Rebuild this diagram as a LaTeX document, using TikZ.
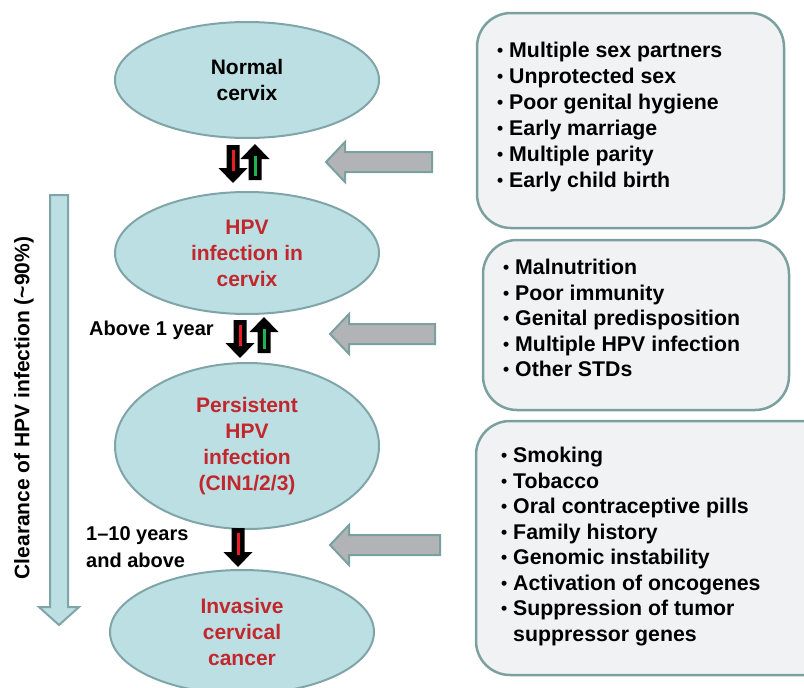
\documentclass[tikz,border=0pt]{standalone}
\usepackage{fontspec}
\setmainfont{Liberation Sans}
\usetikzlibrary{shapes.geometric}

\definecolor{cellfill}{RGB}{188,223,227}
\definecolor{cellline}{RGB}{128,165,168}
\definecolor{panelfill}{RGB}{241,242,244}
\definecolor{panelline}{RGB}{122,160,160}
\definecolor{greyarrow}{RGB}{178,179,182}
\definecolor{stagered}{RGB}{193,39,45}
\definecolor{stripered}{RGB}{237,28,36}
\definecolor{stripegreen}{RGB}{30,178,80}

\newcommand\stagefont{\fontsize{21}{26}\selectfont\bfseries}
\newcommand\labelfont{\fontsize{20}{27}\selectfont\bfseries}
\newcommand\listfontA{\fontsize{21.3}{26}\selectfont\bfseries}
\newcommand\listfontB{\fontsize{21.3}{25.5}\selectfont\bfseries}
\newcommand\firstline{\rule{0pt}{15.5pt}}
\newcommand\dotitem{{\fontsize{17.5}{17.5}\selectfont\raisebox{1pt}{•}}\ }

\tikzset{
  stage/.style={ellipse, draw=cellline, fill=cellfill, line width=2pt,
    minimum width=264pt, inner sep=0pt, align=center, font=\stagefont},
  panel/.style={draw=panelline, fill=panelfill, line width=2.5pt,
    rounded corners=34pt, inner sep=0pt},
  listtext/.style={anchor=north west, inner sep=0pt, align=left},
  sidelabel/.style={anchor=base west, inner sep=0pt, font=\labelfont},
  pics/downflag/.style={code={
    \fill[black] (-6.5,0) -- (6.5,0) -- (6.5,#1-15) -- (14.5,#1-15)
      -- (0,#1) -- (-14.5,#1-15) -- (-6.5,#1-15) -- cycle;
    \draw[stripered, line width=3pt] (0,5) -- (0,#1-12);
  }},
  pics/upflag/.style={code={
    \fill[black] (-6.5,0) -- (6.5,0) -- (6.5,-#1+15) -- (14.5,-#1+15)
      -- (0,-#1) -- (-14.5,-#1+15) -- (-6.5,-#1+15) -- cycle;
    \draw[stripegreen, line width=3pt] (0,-4) -- (0,-#1+12);
  }},
  pics/leftblock/.style={code={
    \filldraw[fill=greyarrow, draw=panelline, line width=2pt, line join=miter]
      (0,0) -- (19,-20) -- (19,-10) -- (#1,-10) -- (#1,10) -- (19,10)
      -- (19,20) -- cycle;
  }}
}

\begin{document}
\begin{tikzpicture}[x=1pt, y=-1pt]
  \useasboundingbox (0,0) rectangle (804,688);
  \clip (0,0) rectangle (804,688);
  \fill[white] (0,0) rectangle (804,688);

  % stages of the disease
  \node[stage, minimum height=116pt] (normal) at (247,80) {Normal\\cervix};
  \node[stage, minimum height=122pt, text=stagered] (hpv) at (247,253)
    {HPV\\infection in\\cervix};
  \node[stage, minimum height=166pt, text=stagered] (persist) at (247,446)
    {Persistent\\HPV\\infection\\(CIN1/2/3)};
  \node[stage, minimum height=124pt, text=stagered] (cancer) at (242,632)
    {Invasive\\cervical\\cancer};

  % transitions between stages
  \pic at (233,145) {downflag=38};
  \pic at (255,180) {upflag=36};
  \pic at (240,320) {downflag=38};
  \pic at (264,353) {upflag=36};
  \pic at (238,528) {downflag=39};

  \node[sidelabel] (above) at (89,335) {Above 1 year};
  \node[sidelabel] (years) at (86,540) {1--10 years};
  \node[sidelabel] (andabove) at (86,567) {and above};

  % clearance arrow
  \filldraw[fill=cellfill, draw=cellline, line width=2pt]
    (50,195) -- (68,195) -- (68,607) -- (79,607) -- (59,625) -- (39,607)
    -- (50,607) -- cycle;
  \node[rotate=90, inner sep=0pt, font=\fontsize{21}{26}\selectfont\bfseries] (clear)
    at (24,408) {Clearance of HPV infection (\textasciitilde90\%)};

  % risk factor panels
  \node[panel, minimum width=307pt, minimum height=215pt] (risk1) at (630.5,120.5) {};
  \node[listtext, font=\listfontA] (list1) at (497,42) {\firstline
    \dotitem Multiple sex partners\\
    \dotitem Unprotected sex\\
    \dotitem Poor genital hygiene\\
    \dotitem Early marriage\\
    \dotitem Multiple parity\\
    \dotitem Early child birth};

  \node[panel, minimum width=306pt, minimum height=170pt] (risk2) at (636,325) {};
  \node[listtext, font=\listfontB] (list2) at (503,259) {\firstline
    \dotitem Malnutrition\\
    \dotitem Poor immunity\\
    \dotitem Genital predisposition\\
    \dotitem Multiple HPV infection\\
    \dotitem Other STDs};

  \node[panel, minimum width=364pt, minimum height=254pt] (risk3) at (658,548) {};
  \node[listtext, font=\listfontB] (list3) at (501,447) {\firstline
    \dotitem Smoking\\
    \dotitem Tobacco\\
    \dotitem Oral contraceptive pills\\
    \dotitem Family history\\
    \dotitem Genomic instability\\
    \dotitem Activation of oncogenes\\
    \dotitem Suppression of tumor\\
    \phantom{\dotitem}suppressor genes};

  % panels feeding the transitions
  \pic at (326,162) {leftblock=106};
  \pic at (330,334) {leftblock=105};
  \pic at (330,545) {leftblock=110};
\end{tikzpicture}
\end{document}
